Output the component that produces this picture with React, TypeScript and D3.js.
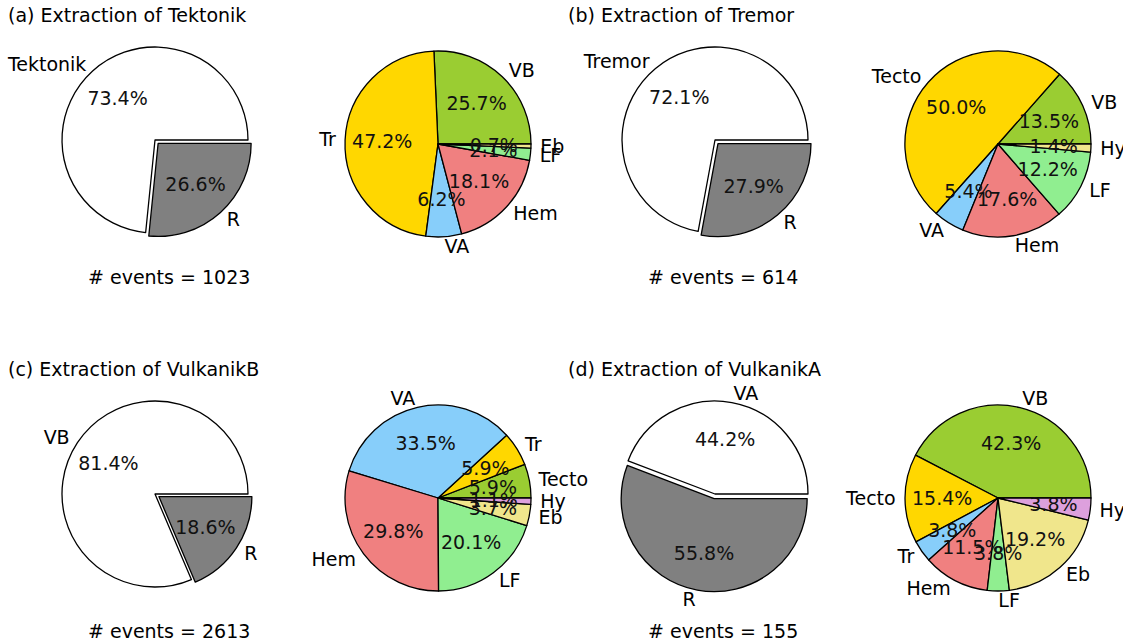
import React, { useEffect, useRef } from 'react';
import * as d3 from 'd3';

// panel titles and main split (class vs. rest "R")
const panelTitles = [
  '(a) Extraction of Tektonik',
  '(b) Extraction of Tremor',
  '(c) Extraction of VulkanikB',
  '(d) Extraction of VulkanikA',
];
const mainLabels = ['Tektonik', 'Tremor', 'VB', 'VA'];
const mainShare = [73.4, 72.1, 81.4, 44.2];
const restShare = [26.6, 27.9, 18.6, 55.8];
const eventCounts = [1023, 614, 2613, 155];

// breakdown of R for each panel
const subLabels = [
  ['VB', 'Tr', 'VA', 'Hem', 'LF', 'Eb'],
  ['VB', 'Tecto', 'VA', 'Hem', 'LF', 'Hy'],
  ['Tecto', 'Tr', 'VA', 'Hem', 'LF', 'Eb', 'Hy'],
  ['VB', 'Tecto', 'Tr', 'Hem', 'LF', 'Eb', 'Hy'],
];
const subValues = [
  [25.7, 47.2, 6.2, 18.1, 2.1, 0.7],
  [13.5, 50.0, 5.4, 17.6, 12.2, 1.4],
  [5.9, 5.9, 33.5, 29.8, 20.1, 3.7, 1.1],
  [42.3, 15.4, 3.8, 11.5, 3.8, 19.2, 3.8],
];
const subColors = ['yellowgreen', 'gold', 'lightskyblue', 'lightcoral', 'lightgreen', 'khaki', 'plum'];

const App = () => {
  const ref = useRef<SVGSVGElement>(null);

  useEffect(() => {
    document.body.style.margin = '0';
    const W = 1123, H = 644;
    const R = 93;
    const svg = d3.select(ref.current);
    svg.selectAll('*').remove();
    svg.attr('width', W).attr('height', H)
      .style('font-family', '"DejaVu Sans", sans-serif')
      .style('font-size', '19px');

    const colX = [0, 560];
    const rowY = [0, 354];

    // matplotlib style: start at 3 o'clock, counter-clockwise
    const pie = d3.pie<number>().sort(null).value(d => d)
      .startAngle(Math.PI / 2).endAngle(Math.PI / 2 - 2 * Math.PI);
    const arc = d3.arc<d3.PieArcDatum<number>>().innerRadius(0).outerRadius(R);

    const drawPie = (g, cx, cy, values, labels, colors, explode) => {
      const arcs = pie(values);
      const pcts = [];
      arcs.forEach((a, i) => {
        const mid = (a.startAngle + a.endAngle) / 2;
        const ex = explode[i] * R;
        const ox = cx + Math.sin(mid) * ex;
        const oy = cy - Math.cos(mid) * ex;
        g.append('path')
          .attr('transform', `translate(${ox},${oy})`)
          .attr('d', arc(a))
          .attr('fill', colors[i])
          .attr('stroke', '#000')
          .attr('stroke-width', 1.3)
          .attr('stroke-linejoin', 'round');
        const lx = Math.sin(mid) * R * 1.1;
        const ly = -Math.cos(mid) * R * 1.1;
        g.append('text')
          .attr('x', ox + lx).attr('y', oy + ly).attr('dy', '0.35em')
          .attr('text-anchor', lx > 0 ? 'start' : 'end')
          .attr('fill', '#000')
          .text(labels[i]);
        pcts.push({ x: ox + Math.sin(mid) * R * 0.6, y: oy - Math.cos(mid) * R * 0.6, v: values[i] });
      });
      // percentages on top of all wedges
      pcts.forEach(t => {
        g.append('text')
          .attr('x', t.x).attr('y', t.y).attr('dy', '0.35em')
          .attr('text-anchor', 'middle')
          .attr('fill', '#111')
          .text(`${t.v.toFixed(1)}%`);
      });
    };

    panelTitles.forEach((title, p) => {
      const dx = colX[p % 2];
      const dy = rowY[Math.floor(p / 2)];
      const g = svg.append('g');

      g.append('text').attr('x', dx + 8).attr('y', dy + 22).attr('fill', '#000').text(title);

      drawPie(g, dx + 155, dy + 140, [mainShare[p], restShare[p]],
        [mainLabels[p], 'R'], ['white', 'gray'], [0, 0.05]);

      drawPie(g, dx + 438, dy + 144, subValues[p], subLabels[p], subColors,
        subValues[p].map(() => 0));

      g.append('text').attr('x', dx + 88).attr('y', dy + 284).attr('fill', '#000')
        .text(`# events = ${eventCounts[p]}`);
    });
  }, []);

  return <svg ref={ref}></svg>;
};

export default App;
